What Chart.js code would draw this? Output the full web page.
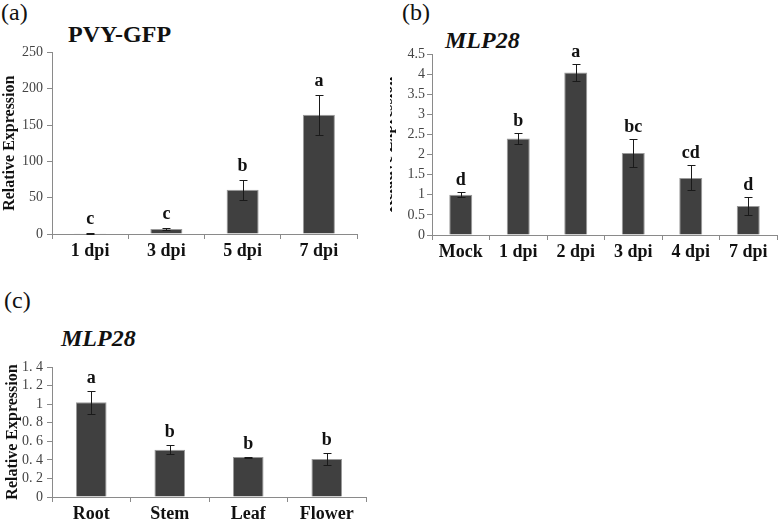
<!DOCTYPE html>
<html lang="en">
<head>
    <meta charset="UTF-8">
    <title>PVY-GFP and MLP28 relative expression</title>
    <style>
        body {
            margin: 0;
            background: #fff;
            width: 778px;
            height: 521px;
            position: relative;
            overflow: hidden;
            font-family: "Liberation Serif", "DejaVu Serif", serif;
        }

        .panel {
            position: absolute;
            overflow: hidden;
        }

        .panel canvas {
            position: absolute;
            top: 0;
        }

        .tag {
            position: absolute;
            font-size: 24px;
            line-height: 24px;
            color: #111;
            white-space: nowrap;
        }

        .head {
            position: absolute;
            font-size: 24px;
            line-height: 24px;
            font-weight: bold;
            color: #111;
            white-space: nowrap;
        }
    </style>
</head>
<body>
<div class="tag" style="left:1px; top:0px;">(a)</div>
<div class="head" style="left:68px; top:22px;">PVY-GFP</div>
<div class="panel" style="left:0; top:40px; width:370px; height:232px;">
    <canvas id="chartA" width="370" height="232"></canvas>
</div>

<div class="tag" style="left:402px; top:0px;">(b)</div>
<div class="head" style="left:445px; top:28px; font-style:italic;">MLP28</div>
<div class="panel" style="left:390px; top:40px; width:388px; height:232px;">
    <canvas id="chartB" width="403" height="232" style="left:-15px;"></canvas>
</div>

<div class="tag" style="left:4px; top:288px;">(c)</div>
<div class="head" style="left:61px; top:326px; font-style:italic;">MLP28</div>
<div class="panel" style="left:0; top:350px; width:380px; height:171px;">
    <canvas id="chartC" width="380" height="171"></canvas>
</div>

<script src="https://cdn.jsdelivr.net/npm/chart.js"></script>
<script>
    // (a) PVY-GFP
    const aLabels = ['1 dpi', '3 dpi', '5 dpi', '7 dpi'];
    const aValues = [1, 7, 61, 164];
    const aErrors = [0.5, 1, 14, 28];
    const aLetters = ['c', 'c', 'b', 'a'];
    const aTicks = ['0', '50', '100', '150', '200', '250'];

    // (b) MLP28 time course
    const bLabels = ['Mock', '1 dpi', '2 dpi', '3 dpi', '4 dpi', '7 dpi'];
    const bValues = [1.0, 2.40, 4.04, 2.04, 1.42, 0.72];
    const bErrors = [0.06, 0.13, 0.20, 0.35, 0.31, 0.23];
    const bLetters = ['d', 'b', 'a', 'bc', 'cd', 'd'];
    const bTicks = ['0', '0.5', '1', '1.5', '2', '2.5', '3', '3.5', '4', '4.5'];

    // (c) MLP28 tissues
    const cLabels = ['Root', 'Stem', 'Leaf', 'Flower'];
    const cValues = [1.02, 0.51, 0.43, 0.41];
    const cErrors = [0.125, 0.05, 0.006, 0.06];
    const cLetters = ['a', 'b', 'b', 'b'];
    const cTicks = ['0', '0. 2', '0. 4', '0. 6', '0. 8', '1', '1. 2', '1. 4'];

    const serif = '"Liberation Serif", "DejaVu Serif", serif';
    const axisGray = '#8a8a8a';

    // error bars + significance letters on top of each bar
    const errLetters = {
        id: 'errLetters',
        afterDatasetsDraw(chart, args, opts) {
            const ctx = chart.ctx;
            const y = chart.scales.y;
            const vals = chart.data.datasets[0].data;
            const meta = chart.getDatasetMeta(0);
            ctx.save();
            ctx.strokeStyle = '#1a1a1a';
            ctx.lineWidth = 1;
            ctx.fillStyle = '#111';
            ctx.font = 'bold 18px ' + serif;
            ctx.textAlign = 'center';
            ctx.textBaseline = 'middle';
            meta.data.forEach((bar, i) => {
                const px = Math.round(bar.x) + 0.5;
                const top = Math.round(y.getPixelForValue(vals[i] + opts.errors[i])) + 0.5;
                const bot = Math.round(y.getPixelForValue(vals[i] - opts.errors[i])) + 0.5;
                ctx.beginPath();
                ctx.moveTo(px, top);
                ctx.lineTo(px, bot);
                ctx.moveTo(px - 4, top);
                ctx.lineTo(px + 4, top);
                ctx.moveTo(px - 4, bot);
                ctx.lineTo(px + 4, bot);
                ctx.stroke();
                ctx.fillText(opts.letters[i], bar.x, top - opts.gap);
            });
            ctx.restore();
        }
    };

    function makeChart(id, cfg) {
        const ctx = document.getElementById(id).getContext('2d');
        return new Chart(ctx, {
            type: 'bar',
            data: {
                labels: cfg.labels,
                datasets: [{
                    data: cfg.values,
                    backgroundColor: '#404040',
                    borderColor: '#9a9a9a',
                    borderWidth: 1,
                    categoryPercentage: 1,
                    barPercentage: cfg.barPct
                }]
            },
            plugins: [errLetters],
            options: {
                responsive: false,
                animation: false,
                devicePixelRatio: 1,
                layout: {padding: cfg.padding},
                plugins: {
                    legend: {display: false},
                    tooltip: {enabled: false},
                    errLetters: {errors: cfg.errors, letters: cfg.letters, gap: cfg.gap}
                },
                scales: {
                    x: {
                        afterFit: s => { s.height = cfg.xHeight; },
                        grid: {drawOnChartArea: false, tickLength: 5, color: axisGray, offset: true},
                        border: {color: axisGray},
                        ticks: {
                            color: '#111',
                            padding: 2,
                            maxRotation: 0,
                            font: {family: serif, size: 18, weight: 'bold'}
                        }
                    },
                    y: {
                        min: 0,
                        max: cfg.max,
                        afterFit: s => { s.width = cfg.yWidth; },
                        grid: {drawOnChartArea: false, tickLength: 5, color: axisGray},
                        border: {color: axisGray},
                        ticks: {
                            stepSize: cfg.step,
                            autoSkip: false,
                            color: '#444',
                            padding: cfg.tickPad,
                            font: {family: serif, size: 14},
                            callback: (v, i) => cfg.ticks[i]
                        },
                        title: {
                            display: true,
                            text: 'Relative Expression',
                            color: '#111',
                            padding: {top: cfg.titlePad, bottom: 0},
                            font: {family: serif, size: 16, weight: 'bold'}
                        }
                    }
                }
            }
        });
    }

    makeChart('chartA', {
        labels: aLabels, values: aValues, errors: aErrors, letters: aLetters, ticks: aTicks,
        max: 250, step: 50, barPct: 0.42, gap: 14,
        padding: {top: 12, right: 13, left: 0, bottom: 0},
        xHeight: 38, yWidth: 52, tickPad: 4, titlePad: 0
    });

    makeChart('chartB', {
        labels: bLabels, values: bValues, errors: bErrors, letters: bLetters, ticks: bTicks,
        max: 4.5, step: 0.5, barPct: 0.40, gap: 12,
        padding: {top: 14, right: 1, left: 0, bottom: 0},
        xHeight: 37, yWidth: 57, tickPad: 2, titlePad: 3
    });

    makeChart('chartC', {
        labels: cLabels, values: cValues, errors: cErrors, letters: cLetters, ticks: cTicks,
        max: 1.4, step: 0.2, barPct: 0.39, gap: 13,
        padding: {top: 17, right: 14, left: 0, bottom: 0},
        xHeight: 24, yWidth: 52, tickPad: 4, titlePad: 3
    });
</script>
</body>
</html>
